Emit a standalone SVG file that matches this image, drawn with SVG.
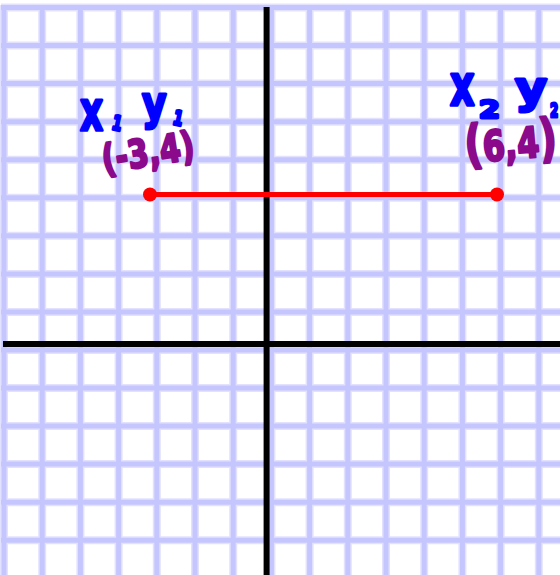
<svg xmlns="http://www.w3.org/2000/svg" width="560" height="575" viewBox="0 0 560 575">
<defs>
<style>
.gridsoft{stroke:#e2e2ff;stroke-width:8;fill:none}
.grid{stroke:#c6c6ff;stroke-width:5;fill:none}
.axis{stroke:#000;stroke-width:6;fill:none}
.seg{stroke:#ff0000;stroke-width:5;fill:none}
.pt{fill:#ff0000}
.blue{fill:#0000ff;stroke:#0000ff;stroke-width:3;stroke-linejoin:round;font-family:"DejaVu Sans",sans-serif;font-weight:bold}
.purple{fill:#8b0a8b;stroke:#8b0a8b;stroke-width:2.5;stroke-linejoin:round;font-family:"DejaVu Sans",sans-serif;font-weight:bold}
</style>
</defs>
<rect width="560" height="575" fill="#ffffff"/>
<g id="grid">
<g class="gridsoft">
<path d="M4 5V575M42.2 5V575M80.4 5V575M118.6 5V575M156.8 5V575M195 5V575M233.2 5V575M271.4 5V575M309.6 5V575M347.8 5V575M386 5V575M424.2 5V575M462.4 5V575M500.6 5V575M538.8 5V575"/>
<path d="M1 7.5H560M1 45.5H560M1 83.6H560M1 121.7H560M1 159.7H560M1 197.8H560M1 235.8H560M1 273.9H560M1 311.9H560M1 350H560M1 388H560M1 426.1H560M1 464.1H560M1 502.2H560M1 540.2H560"/>
</g>
<g class="grid">
<path d="M4 5V575M42.2 5V575M80.4 5V575M118.6 5V575M156.8 5V575M195 5V575M233.2 5V575M271.4 5V575M309.6 5V575M347.8 5V575M386 5V575M424.2 5V575M462.4 5V575M500.6 5V575M538.8 5V575"/>
<path d="M1 7.5H560M1 45.5H560M1 83.6H560M1 121.7H560M1 159.7H560M1 197.8H560M1 235.8H560M1 273.9H560M1 311.9H560M1 350H560M1 388H560M1 426.1H560M1 464.1H560M1 502.2H560M1 540.2H560"/>
</g>
</g>
<g id="axes">
<path class="axis" d="M266.6 7V575"/>
<path class="axis" d="M3 344H560"/>
</g>
<g id="segment">
<path class="seg" d="M150 194.5H497"/>
<circle class="pt" cx="150" cy="194.5" r="7"/>
<circle class="pt" cx="497" cy="194.5" r="7"/>
</g>
<g id="label-p1">
<text class="blue" font-size="56" transform="translate(80,130) scale(0.64,1)">x</text>
<text class="blue" font-size="20" transform="translate(111,129) rotate(12) scale(0.7,1)">1</text>
<text class="blue" font-size="46" transform="translate(142,119) scale(0.82,1)">y</text>
<text class="blue" font-size="20" transform="translate(172,124) rotate(12) scale(0.7,1)">1</text>
<text class="purple" font-size="39" transform="translate(104,173) rotate(-9) scale(0.77,1)">(-3,4)</text>
</g>
<g id="label-p2">
<text class="blue" font-size="56" transform="translate(450,105) scale(0.68,1)">x</text>
<text class="blue" font-size="24" transform="translate(479,118) scale(1.25,1)">2</text>
<text class="blue" font-size="44" transform="translate(515,103) scale(1.12,1)">y</text>
<text class="blue" font-size="20" transform="translate(550,117) scale(0.6,1)">2</text>
<text class="purple" font-size="42" transform="translate(466,163) rotate(-5) scale(0.76,1)"><tspan font-size="52">(</tspan>6,4<tspan font-size="52">)</tspan></text>
</g>
</svg>
